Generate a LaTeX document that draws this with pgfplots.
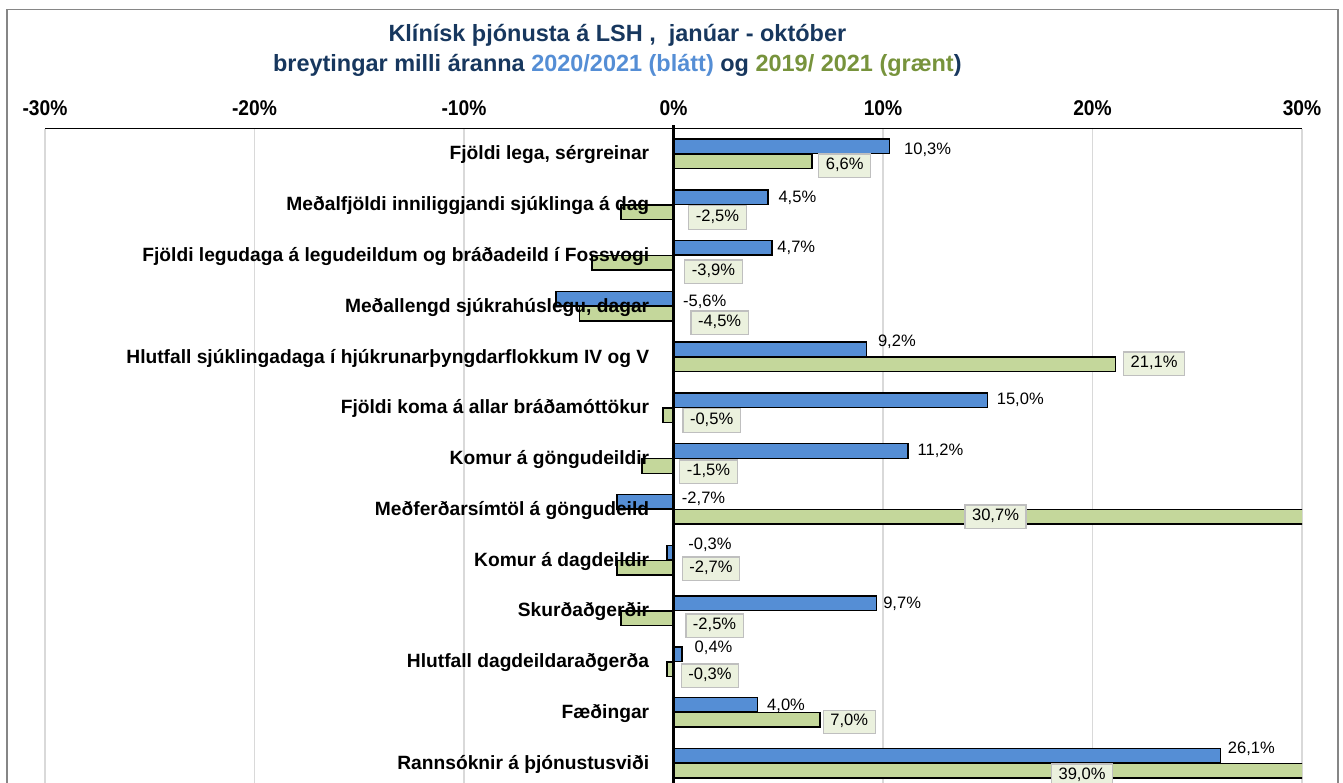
\documentclass[border=0pt]{standalone}
\usepackage{pgfplots}
\pgfplotsset{compat=1.18}
\usepackage{fontspec}
\setmainfont{Liberation Sans}
\newfontfamily\narrow{Liberation Sans}[FakeStretch=0.9]
\definecolor{barblue}{HTML}{558ED5}
\definecolor{bargreen}{HTML}{C4D79B}
\definecolor{navy}{HTML}{17375E}
\definecolor{tblue}{HTML}{558ED5}
\definecolor{tgreen}{HTML}{77933C}
\definecolor{gridgray}{HTML}{D9D9D9}
\definecolor{boxfill}{HTML}{EBF1DE}
\definecolor{boxdraw}{HTML}{BFBFBF}
\definecolor{framegray}{HTML}{868686}
\begin{document}
\begin{tikzpicture}[
  bl/.style={font=\fontsize{12.4}{14}\selectfont, anchor=west, inner sep=0pt, text height=0.72em, text depth=0.15em},
  gl/.style={font=\fontsize{12.4}{14}\selectfont, anchor=center, fill=boxfill, draw=boxdraw, line width=0.9pt, inner xsep=5.3pt, inner ysep=4.5pt, text height=0.72em, text depth=0.15em},
  cl/.style={font=\bfseries\fontsize{14.4}{16}\selectfont, anchor=base east, inner sep=0pt},
]
\begin{axis}[
  scale only axis, width=942.75pt, height=490.8pt,
  xmin=-30, xmax=30, ymin=-12.39, ymax=0.5,
  xbar, bar width=10.9pt,
  axis line style={draw=none},
  xtick={-30,-20,-10,0,10,20,30},
  xticklabels={-30\%,-20\%,-10\%,0\%,10\%,20\%,30\%},
  xticklabel pos=upper,
  major tick length=0pt,
  ytick=\empty,
  xmajorgrids, grid style={draw=gridgray, line width=0.8pt},
  xticklabel style={font=\narrow\bfseries\fontsize{16}{18}\selectfont, anchor=base, yshift=10pt},
  clip mode=individual,
]
% 2020/2021 (blue)
\addplot[fill=barblue, draw=black, line width=1.1pt, bar shift=0pt] coordinates {
(10.3,0.1475) (4.5,-0.8525) (4.7,-1.8525) (-5.6,-2.8525) (9.2,-3.8525) (15.0,-4.8525)
(11.2,-5.8525) (-2.7,-6.8525) (-0.3,-7.8525) (9.7,-8.8525) (0.4,-9.8525) (4.0,-10.8525) (26.1,-11.8525)};
% 2019/2021 (green)
\addplot[fill=bargreen, draw=black, line width=1.1pt, bar shift=0pt] coordinates {
(6.6,-0.1475) (-2.5,-1.1475) (-3.9,-2.1475) (-4.5,-3.1475) (21.1,-4.1475) (-0.5,-5.1475)
(-1.5,-6.1475) (30.7,-7.1475) (-2.7,-8.1475) (-2.5,-9.1475) (-0.3,-10.1475) (7.0,-11.1475) (39.0,-12.1475)};

\draw[black, line width=0.75pt] (axis cs:-30,0.5) -- (axis cs:30,0.5);
\draw[black, line width=2.8pt] (axis cs:0,0.56) -- (axis cs:0,-12.39);

% category labels
\node[cl] at (axis cs:-1.15,-0.12) {Fjöldi lega, sérgreinar};
\node[cl] at (axis cs:-1.15,-1.12) {Meðalfjöldi inniliggjandi sjúklinga á dag};
\node[cl] at (axis cs:-1.15,-2.12) {Fjöldi legudaga á legudeildum og bráðadeild í Fossvogi};
\node[cl] at (axis cs:-1.15,-3.12) {Meðallengd sjúkrahúslegu, dagar};
\node[cl] at (axis cs:-1.15,-4.12) {Hlutfall sjúklingadaga í hjúkrunarþyngdarflokkum IV og V};
\node[cl] at (axis cs:-1.15,-5.12) {Fjöldi koma á allar bráðamóttökur};
\node[cl] at (axis cs:-1.15,-6.12) {Komur á göngudeildir};
\node[cl] at (axis cs:-1.15,-7.12) {Meðferðarsímtöl á göngudeild};
\node[cl] at (axis cs:-1.15,-8.12) {Komur á dagdeildir};
\node[cl] at (axis cs:-1.15,-9.12) {Skurðaðgerðir};
\node[cl] at (axis cs:-1.15,-10.12) {Hlutfall dagdeildaraðgerða};
\node[cl] at (axis cs:-1.15,-11.12) {Fæðingar};
\node[cl] at (axis cs:-1.15,-12.12) {Rannsóknir á þjónustusviði};

% blue value labels
\node[bl] at (axis cs:11.0,0.06) {10,3\%};
\node[bl] at (axis cs:5.0,-0.886) {4,5\%};
\node[bl] at (axis cs:4.95,-1.871) {4,7\%};
\node[bl] at (axis cs:0.45,-2.928) {-5,6\%};
\node[bl] at (axis cs:9.75,-3.716) {9,2\%};
\node[bl] at (axis cs:15.42,-4.864) {15,0\%};
\node[bl] at (axis cs:11.64,-5.868) {11,2\%};
\node[bl, fill=white, inner xsep=3pt, inner ysep=1pt] at (axis cs:0.2,-6.814) {-2,7\%};
\node[bl] at (axis cs:0.7,-7.714) {-0,3\%};
\node[bl] at (axis cs:10.0,-8.881) {9,7\%};
\node[bl] at (axis cs:1.0,-9.748) {0,4\%};
\node[bl] at (axis cs:4.46,-10.884) {4,0\%};
\node[bl] at (axis cs:26.45,-11.737) {26,1\%};

% green value labels
\node[gl] at (axis cs:8.17,-0.236) {6,6\%};
\node[gl] at (axis cs:2.10,-1.250) {-2,5\%};
\node[gl] at (axis cs:1.91,-2.324) {-3,9\%};
\node[gl] at (axis cs:2.20,-3.328) {-4,5\%};
\node[gl] at (axis cs:22.94,-4.135) {21,1\%};
\node[gl] at (axis cs:1.82,-5.248) {-0,5\%};
\node[gl] at (axis cs:1.67,-6.26) {-1,5\%};
\node[gl] at (axis cs:15.37,-7.148) {30,7\%};
\node[gl] at (axis cs:1.79,-8.172) {-2,7\%};
\node[gl] at (axis cs:1.96,-9.295) {-2,5\%};
\node[gl] at (axis cs:1.74,-10.280) {-0,3\%};
\node[gl] at (axis cs:8.39,-11.19) {7,0\%};
\node[gl] at (axis cs:19.50,-12.25) {39,0\%};

% title
\node[anchor=base, font=\bfseries\fontsize{17.6}{20}\selectfont, text=navy] at (axis cs:-2.68,2.215)
  {Klínísk þjónusta á LSH ,\ \ janúar - október};
\node[anchor=base, font=\bfseries\fontsize{17.6}{20}\selectfont, text=navy] at (axis cs:-2.68,1.625)
  {breytingar milli áranna \textcolor{tblue}{2020/2021 (blátt)} og \textcolor{tgreen}{2019/ 2021 (grænt}) };
\end{axis}
\draw[framegray, line width=1pt]
  ([shift={(-28.5pt,0pt)}]current axis.south west) --
  ([shift={(-28.5pt,89.5pt)}]current axis.north west) --
  ([shift={(27pt,89.5pt)}]current axis.north east) --
  ([shift={(27pt,0pt)}]current axis.south east);
\pgfresetboundingbox
\useasboundingbox ([shift={(-33.75pt,0pt)}]current axis.south west) rectangle ([shift={(30.75pt,96.4pt)}]current axis.north east);
\end{tikzpicture}
\end{document}
